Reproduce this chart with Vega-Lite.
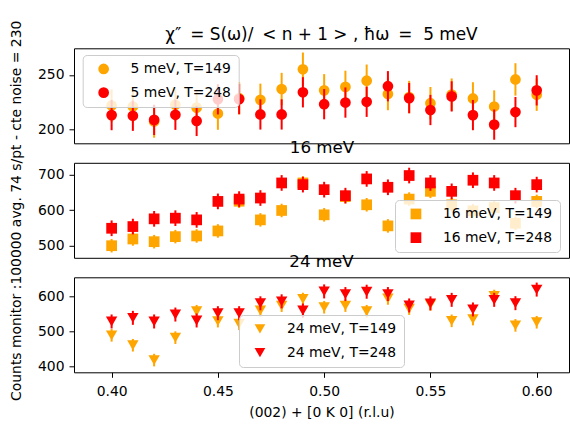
{
  "$schema": "https://vega.github.io/schema/vega-lite/v6.json",
  "autosize": "none",
  "padding": {"left": 74, "top": 48.3, "right": 496, "bottom": 376.7},
  "config": {
    "font": "DejaVu Sans",
    "view": {"stroke": "black", "strokeWidth": 1},
    "axis": {"grid": false, "domain": false, "tickColor": "black", "tickSize": 5, "tickWidth": 1, "labelColor": "black", "labelFontSize": 13.9, "labelFont": "DejaVu Sans", "labelPadding": 5, "titleFont": "DejaVu Sans", "titleFontSize": 13.9, "titleFontWeight": "normal", "titleColor": "black"},
    "title": {"fontSize": 16.7, "fontWeight": "normal", "font": "DejaVu Sans", "color": "black", "offset": 6.5, "anchor": "middle"},
    "legend": {"orient": "none", "title": null, "fillColor": "rgba(255,255,255,0.8)", "strokeColor": "#cccccc", "cornerRadius": 4, "padding": 7, "labelFont": "DejaVu Sans", "labelFontSize": 13.9, "labelColor": "black", "symbolOffset": 7, "labelOffset": 20, "rowPadding": 8.7, "symbolSize": 115, "symbolStrokeWidth": 0}
  },
  "datasets": {
    "p5": [
      {"x":0.40,"T":149,"s":"5 meV, T=149","v":221.7,"e":15},{"x":0.41,"T":149,"s":"5 meV, T=149","v":220.8,"e":15},{"x":0.42,"T":149,"s":"5 meV, T=149","v":207,"e":15},{"x":0.43,"T":149,"s":"5 meV, T=149","v":222.5,"e":15},{"x":0.44,"T":149,"s":"5 meV, T=149","v":219.8,"e":15},{"x":0.45,"T":149,"s":"5 meV, T=149","v":214.3,"e":15},{"x":0.46,"T":149,"s":"5 meV, T=149","v":228.5,"e":15},{"x":0.47,"T":149,"s":"5 meV, T=149","v":227,"e":15},{"x":0.48,"T":149,"s":"5 meV, T=149","v":237,"e":15},{"x":0.49,"T":149,"s":"5 meV, T=149","v":255.3,"e":15.5},{"x":0.50,"T":149,"s":"5 meV, T=149","v":235.8,"e":15},{"x":0.51,"T":149,"s":"5 meV, T=149","v":239,"e":15},{"x":0.52,"T":149,"s":"5 meV, T=149","v":244.7,"e":15},{"x":0.53,"T":149,"s":"5 meV, T=149","v":232.4,"e":15},{"x":0.54,"T":149,"s":"5 meV, T=149","v":229.6,"e":15},{"x":0.55,"T":149,"s":"5 meV, T=149","v":223.9,"e":15},{"x":0.56,"T":149,"s":"5 meV, T=149","v":231.8,"e":15},{"x":0.57,"T":149,"s":"5 meV, T=149","v":228.3,"e":15},{"x":0.58,"T":149,"s":"5 meV, T=149","v":220.8,"e":15},{"x":0.59,"T":149,"s":"5 meV, T=149","v":245.9,"e":15},{"x":0.60,"T":149,"s":"5 meV, T=149","v":231.8,"e":15},
      {"x":0.40,"T":248,"s":"5 meV, T=248","v":212.9,"e":14},{"x":0.41,"T":248,"s":"5 meV, T=248","v":212.3,"e":14},{"x":0.42,"T":248,"s":"5 meV, T=248","v":208.5,"e":14},{"x":0.43,"T":248,"s":"5 meV, T=248","v":213.2,"e":14},{"x":0.44,"T":248,"s":"5 meV, T=248","v":207.5,"e":14},{"x":0.45,"T":248,"s":"5 meV, T=248","v":227.5,"e":14},{"x":0.46,"T":248,"s":"5 meV, T=248","v":227.7,"e":14},{"x":0.47,"T":248,"s":"5 meV, T=248","v":213.5,"e":14},{"x":0.48,"T":248,"s":"5 meV, T=248","v":213.5,"e":14},{"x":0.49,"T":248,"s":"5 meV, T=248","v":234,"e":14},{"x":0.50,"T":248,"s":"5 meV, T=248","v":223,"e":14},{"x":0.51,"T":248,"s":"5 meV, T=248","v":224.5,"e":14},{"x":0.52,"T":248,"s":"5 meV, T=248","v":225.2,"e":14},{"x":0.53,"T":248,"s":"5 meV, T=248","v":239.6,"e":14},{"x":0.54,"T":248,"s":"5 meV, T=248","v":228.6,"e":14},{"x":0.55,"T":248,"s":"5 meV, T=248","v":217.6,"e":14},{"x":0.56,"T":248,"s":"5 meV, T=248","v":230.2,"e":14},{"x":0.57,"T":248,"s":"5 meV, T=248","v":212.9,"e":14},{"x":0.58,"T":248,"s":"5 meV, T=248","v":204.1,"e":14},{"x":0.59,"T":248,"s":"5 meV, T=248","v":215.7,"e":14},{"x":0.60,"T":248,"s":"5 meV, T=248","v":235.8,"e":14}
    ],
    "p16": [
      {"x":0.40,"T":149,"s":"16 meV, T=149","v":500,"e":19},{"x":0.41,"T":149,"s":"16 meV, T=149","v":518.9,"e":19},{"x":0.42,"T":149,"s":"16 meV, T=149","v":511.3,"e":19},{"x":0.43,"T":149,"s":"16 meV, T=149","v":525.5,"e":19},{"x":0.44,"T":149,"s":"16 meV, T=149","v":527.4,"e":19},{"x":0.45,"T":149,"s":"16 meV, T=149","v":541.5,"e":19},{"x":0.46,"T":149,"s":"16 meV, T=149","v":625,"e":19},{"x":0.47,"T":149,"s":"16 meV, T=149","v":572.6,"e":19},{"x":0.48,"T":149,"s":"16 meV, T=149","v":599,"e":19},{"x":0.49,"T":149,"s":"16 meV, T=149","v":676.4,"e":19},{"x":0.50,"T":149,"s":"16 meV, T=149","v":586.8,"e":19},{"x":0.51,"T":149,"s":"16 meV, T=149","v":638,"e":19},{"x":0.52,"T":149,"s":"16 meV, T=149","v":615,"e":19},{"x":0.53,"T":149,"s":"16 meV, T=149","v":555.7,"e":19},{"x":0.54,"T":149,"s":"16 meV, T=149","v":631,"e":19},{"x":0.55,"T":149,"s":"16 meV, T=149","v":652.8,"e":19},{"x":0.56,"T":149,"s":"16 meV, T=149","v":615,"e":19},{"x":0.57,"T":149,"s":"16 meV, T=149","v":598,"e":19},{"x":0.58,"T":149,"s":"16 meV, T=149","v":607,"e":19},{"x":0.59,"T":149,"s":"16 meV, T=149","v":563,"e":19},{"x":0.60,"T":149,"s":"16 meV, T=149","v":624.5,"e":19},
      {"x":0.40,"T":248,"s":"16 meV, T=248","v":549,"e":22},{"x":0.41,"T":248,"s":"16 meV, T=248","v":553.8,"e":22},{"x":0.42,"T":248,"s":"16 meV, T=248","v":575.5,"e":22},{"x":0.43,"T":248,"s":"16 meV, T=248","v":577.4,"e":22},{"x":0.44,"T":248,"s":"16 meV, T=248","v":572.6,"e":22},{"x":0.45,"T":248,"s":"16 meV, T=248","v":624.5,"e":22},{"x":0.46,"T":248,"s":"16 meV, T=248","v":631,"e":22},{"x":0.47,"T":248,"s":"16 meV, T=248","v":634,"e":22},{"x":0.48,"T":248,"s":"16 meV, T=248","v":676.4,"e":22},{"x":0.49,"T":248,"s":"16 meV, T=248","v":671.7,"e":22},{"x":0.50,"T":248,"s":"16 meV, T=248","v":657.5,"e":22},{"x":0.51,"T":248,"s":"16 meV, T=248","v":640.6,"e":22},{"x":0.52,"T":248,"s":"16 meV, T=248","v":687.7,"e":22},{"x":0.53,"T":248,"s":"16 meV, T=248","v":664.2,"e":22},{"x":0.54,"T":248,"s":"16 meV, T=248","v":697.2,"e":22},{"x":0.55,"T":248,"s":"16 meV, T=248","v":676.4,"e":22},{"x":0.56,"T":248,"s":"16 meV, T=248","v":652.8,"e":22},{"x":0.57,"T":248,"s":"16 meV, T=248","v":684,"e":22},{"x":0.58,"T":248,"s":"16 meV, T=248","v":676.4,"e":22},{"x":0.59,"T":248,"s":"16 meV, T=248","v":640.6,"e":22},{"x":0.60,"T":248,"s":"16 meV, T=248","v":671.7,"e":22}
    ],
    "p24": [
      {"x":0.40,"T":149,"s":"24 meV, T=149","v":489.6,"e":18},{"x":0.41,"T":149,"s":"24 meV, T=149","v":461.3,"e":18},{"x":0.42,"T":149,"s":"24 meV, T=149","v":418.9,"e":18},{"x":0.43,"T":149,"s":"24 meV, T=149","v":483,"e":18},{"x":0.44,"T":149,"s":"24 meV, T=149","v":558.5,"e":18},{"x":0.45,"T":149,"s":"24 meV, T=149","v":530.2,"e":18},{"x":0.46,"T":149,"s":"24 meV, T=149","v":522.6,"e":18},{"x":0.47,"T":149,"s":"24 meV, T=149","v":560.4,"e":18},{"x":0.48,"T":149,"s":"24 meV, T=149","v":574.5,"e":18},{"x":0.49,"T":149,"s":"24 meV, T=149","v":593.4,"e":18},{"x":0.50,"T":149,"s":"24 meV, T=149","v":569.8,"e":18},{"x":0.51,"T":149,"s":"24 meV, T=149","v":574.5,"e":18},{"x":0.52,"T":149,"s":"24 meV, T=149","v":558.5,"e":18},{"x":0.53,"T":149,"s":"24 meV, T=149","v":595,"e":18},{"x":0.54,"T":149,"s":"24 meV, T=149","v":566,"e":18},{"x":0.55,"T":149,"s":"24 meV, T=149","v":578,"e":18},{"x":0.56,"T":149,"s":"24 meV, T=149","v":531,"e":18},{"x":0.57,"T":149,"s":"24 meV, T=149","v":536,"e":18},{"x":0.58,"T":149,"s":"24 meV, T=149","v":602,"e":18},{"x":0.59,"T":149,"s":"24 meV, T=149","v":518,"e":18},{"x":0.60,"T":149,"s":"24 meV, T=149","v":527,"e":18},
      {"x":0.40,"T":248,"s":"24 meV, T=248","v":529.2,"e":20},{"x":0.41,"T":248,"s":"24 meV, T=248","v":539.6,"e":20},{"x":0.42,"T":248,"s":"24 meV, T=248","v":529.2,"e":20},{"x":0.43,"T":248,"s":"24 meV, T=248","v":549,"e":20},{"x":0.44,"T":248,"s":"24 meV, T=248","v":532.1,"e":20},{"x":0.45,"T":248,"s":"24 meV, T=248","v":552.8,"e":20},{"x":0.46,"T":248,"s":"24 meV, T=248","v":552.8,"e":20},{"x":0.47,"T":248,"s":"24 meV, T=248","v":581.1,"e":20},{"x":0.48,"T":248,"s":"24 meV, T=248","v":586.8,"e":20},{"x":0.49,"T":248,"s":"24 meV, T=248","v":560.4,"e":20},{"x":0.50,"T":248,"s":"24 meV, T=248","v":615.1,"e":20},{"x":0.51,"T":248,"s":"24 meV, T=248","v":607.5,"e":20},{"x":0.52,"T":248,"s":"24 meV, T=248","v":614.2,"e":20},{"x":0.53,"T":248,"s":"24 meV, T=248","v":607.5,"e":20},{"x":0.54,"T":248,"s":"24 meV, T=248","v":575,"e":20},{"x":0.55,"T":248,"s":"24 meV, T=248","v":581,"e":20},{"x":0.56,"T":248,"s":"24 meV, T=248","v":591,"e":20},{"x":0.57,"T":248,"s":"24 meV, T=248","v":563.5,"e":20},{"x":0.58,"T":248,"s":"24 meV, T=248","v":591,"e":20},{"x":0.59,"T":248,"s":"24 meV, T=248","v":581.5,"e":20},{"x":0.60,"T":248,"s":"24 meV, T=248","v":620.3,"e":20}
    ]
  },
  "spacing": 19.5,
  "bounds": "flush",
  "resolve": {"scale": {"color": "independent", "x": "independent", "y": "independent"}, "legend": {"color": "independent"}},
  "vconcat": [
    {
      "width": 495, "height": 95,
      "title": {"text": "χ″ \u2009= S(ω)/ \u2009< n + 1 > , ħω \u2009= \u00a05 meV", "fontSize": 16.9, "offset": 4.5},
      "data": {"name": "p5"},
      "encoding": {
        "x": {"field": "x", "type": "quantitative", "scale": {"domain": [0.3823, 0.6152], "nice": false, "zero": false}, "axis": null},
        "y": {"field": "v", "type": "quantitative", "scale": {"domain": [186.8, 274.7], "nice": false, "zero": false}, "axis": {"values": [200, 250], "title": null}}
      },
      "layer": [
        {"transform": [{"filter": "datum.T == 149"}], "mark": {"type": "errorbar", "color": "#FFA500", "thickness": 2}, "encoding": {"yError": {"field": "e"}}},
        {"transform": [{"filter": "datum.T == 149"}], "mark": {"type": "point", "filled": true, "shape": "circle", "size": 115, "opacity": 1}, "encoding": {"color": {"field": "s", "type": "nominal", "scale": {"domain": ["5 meV, T=149", "5 meV, T=248"], "range": ["#FFA500", "#FF0000"]}, "legend": {"legendX": 8.7, "legendY": 6.7, "symbolType": "circle"}}}},
        {"transform": [{"filter": "datum.T == 248"}], "mark": {"type": "errorbar", "color": "#FF0000", "thickness": 2}, "encoding": {"yError": {"field": "e"}}},
        {"transform": [{"filter": "datum.T == 248"}], "mark": {"type": "point", "filled": true, "shape": "circle", "size": 115, "opacity": 1}, "encoding": {"color": {"field": "s", "type": "nominal"}}}
      ]
    },
    {
      "width": 495, "height": 95,
      "data": {"name": "p16"},
      "encoding": {
        "x": {"field": "x", "type": "quantitative", "scale": {"domain": [0.3823, 0.6152], "nice": false, "zero": false}, "axis": {"orient": "top", "labels": false, "ticks": false, "domain": false, "title": "16 meV", "titleFontSize": 16.7, "titleY": -10.5, "titleBaseline": "alphabetic", "titleAlign": "center"}},
        "y": {"field": "v", "type": "quantitative", "scale": {"domain": [466, 733], "nice": false, "zero": false}, "axis": {"values": [500, 600, 700], "title": "Counts monitor :100000 avg. 74 s/pt - cte noise = 230", "titleX": -58, "titleY": 47.5, "titleAlign": "center", "titleBaseline": "middle", "titleAngle": -90}}
      },
      "layer": [
        {"transform": [{"filter": "datum.T == 149"}], "mark": {"type": "errorbar", "color": "#FFA500", "thickness": 2}, "encoding": {"yError": {"field": "e"}}},
        {"transform": [{"filter": "datum.T == 149"}], "mark": {"type": "point", "filled": true, "shape": "square", "size": 115, "opacity": 1}, "encoding": {"color": {"field": "s", "type": "nominal", "scale": {"domain": ["16 meV, T=149", "16 meV, T=248"], "range": ["#FFA500", "#FF0000"]}, "legend": {"legendX": 321, "legendY": 37.2, "symbolType": "square"}}}},
        {"transform": [{"filter": "datum.T == 248"}], "mark": {"type": "errorbar", "color": "#FF0000", "thickness": 2}, "encoding": {"yError": {"field": "e"}}},
        {"transform": [{"filter": "datum.T == 248"}], "mark": {"type": "point", "filled": true, "shape": "square", "size": 115, "opacity": 1}, "encoding": {"color": {"field": "s", "type": "nominal"}}}
      ]
    },
    {
      "width": 495, "height": 95,
      "title": {"text": "24 meV"},
      "data": {"name": "p24"},
      "encoding": {
        "x": {"field": "x", "type": "quantitative", "scale": {"domain": [0.3823, 0.6152], "nice": false, "zero": false}, "axis": {"values": [0.40, 0.45, 0.50, 0.55, 0.60], "format": ".2f", "labelPadding": 7, "title": "(002) + [0 K 0] (r.l.u)", "titleY": 44, "titleBaseline": "alphabetic"}},
        "y": {"field": "v", "type": "quantitative", "scale": {"domain": [384, 655.4], "nice": false, "zero": false}, "axis": {"values": [400, 500, 600], "title": null}}
      },
      "layer": [
        {"transform": [{"filter": "datum.T == 149"}], "mark": {"type": "errorbar", "color": "#FFA500", "thickness": 2}, "encoding": {"yError": {"field": "e"}}},
        {"transform": [{"filter": "datum.T == 149"}], "mark": {"type": "point", "filled": true, "shape": "triangle-down", "size": 130, "opacity": 1}, "encoding": {"color": {"field": "s", "type": "nominal", "scale": {"domain": ["24 meV, T=149", "24 meV, T=248"], "range": ["#FFA500", "#FF0000"]}, "legend": {"legendX": 165, "legendY": 37.7, "symbolType": "triangle-down"}}}},
        {"transform": [{"filter": "datum.T == 248"}], "mark": {"type": "errorbar", "color": "#FF0000", "thickness": 2}, "encoding": {"yError": {"field": "e"}}},
        {"transform": [{"filter": "datum.T == 248"}], "mark": {"type": "point", "filled": true, "shape": "triangle-down", "size": 130, "opacity": 1}, "encoding": {"color": {"field": "s", "type": "nominal"}}}
      ]
    }
  ]
}
